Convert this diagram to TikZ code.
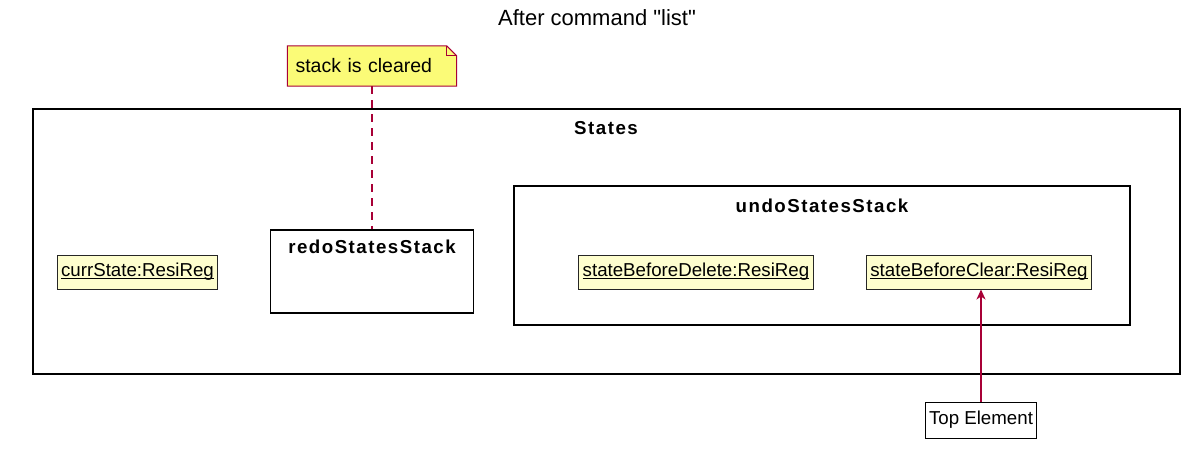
\documentclass[tikz,border=0pt]{standalone}
\usepackage{fontspec}
\setmainfont{Liberation Sans}
\newfontfamily\framefont{Liberation Sans}[LetterSpace=8]
\newfontfamily\titlefont{Liberation Sans}[Ligatures=TeXOff]
\usetikzlibrary{arrows.meta,calc,backgrounds}

\definecolor{umlred}{HTML}{A80036}
\definecolor{notefill}{HTML}{FBFB77}
\definecolor{objfill}{HTML}{FEFECE}

% underline close to the baseline
\newcommand{\objname}[1]{\setbox0\hbox{#1}\rlap{\rule[-2.2pt]{\wd0}{1.1pt}}\box0}

\begin{document}
\begin{tikzpicture}[x=1pt, y=-1pt, >={Stealth[length=10pt,width=9pt,inset=3pt]},
    every node/.style={font=\fontsize{18.7}{22}\selectfont},
    frame/.style={draw=black, line width=1.6pt, inner sep=0pt},
    framelabel/.style={font=\framefont\bfseries\fontsize{18.7}{22}\selectfont},
    object/.style={draw=black!85, line width=1pt, fill=objfill,
      minimum height=34pt, inner xsep=4pt},
    plainbox/.style={draw=black, line width=1pt, fill=white,
      minimum height=36pt, inner xsep=4pt}]

  \useasboundingbox (0,0) rectangle (1194,453);

  % =========================
  % title
  % =========================
  \node[font=\titlefont\fontsize{22}{26}\selectfont] (title) at (597,18)
    {After command "list"};

  % =========================
  % containers
  % =========================
  \node[frame, minimum width=1147pt, minimum height=265pt] (states) at (606.5,241.5) {};
  \node[framelabel] (statesLbl) at (606,128) {States};

  \node[frame, minimum width=203pt, minimum height=83pt] (redo) at (372,271.5) {};
  \node[framelabel] (redoLbl) at (372,247) {redoStatesStack};

  \node[frame, minimum width=616pt, minimum height=139pt] (undo) at (822,255.5) {};
  \node[framelabel] (undoLbl) at (822,206) {undoStatesStack};

  % =========================
  % objects
  % =========================
  \node[object] (curr)   at (137.5,272) {\objname{currState:ResiReg}};
  \node[object] (delete) at (696,272)   {\objname{stateBeforeDelete:ResiReg}};
  \node[object] (clear)  at (979,272)   {\objname{stateBeforeClear:ResiReg}};

  \node[plainbox] (top) at (981,420) {Top Element};
  \draw[->, umlred, line width=1.4pt] (top.north) -- (top.north |- clear.south);

  % =========================
  % note
  % =========================
  \node[minimum width=169pt, minimum height=40pt, inner xsep=8pt,
        text width=153pt, align=left,
        font=\fontsize{19.5}{22}\selectfont] (note) at (372,66)
    {stack is cleared};
  \begin{scope}[on background layer]
    \draw[umlred, fill=notefill, line width=1pt]
      (note.south west) -- (note.north west) -- ($(note.north east)+(-10,0)$)
      -- ($(note.north east)+(0,10)$) -- (note.south east) -- cycle;
    \draw[umlred, line width=1pt]
      ($(note.north east)+(-10,0)$) -- ($(note.north east)+(-10,10)$)
      -- ($(note.north east)+(0,10)$);
  \end{scope}
  \draw[umlred, line width=1.5pt, dash pattern=on 8pt off 6pt] (note.south) -- (redo.north);

\end{tikzpicture}
\end{document}
